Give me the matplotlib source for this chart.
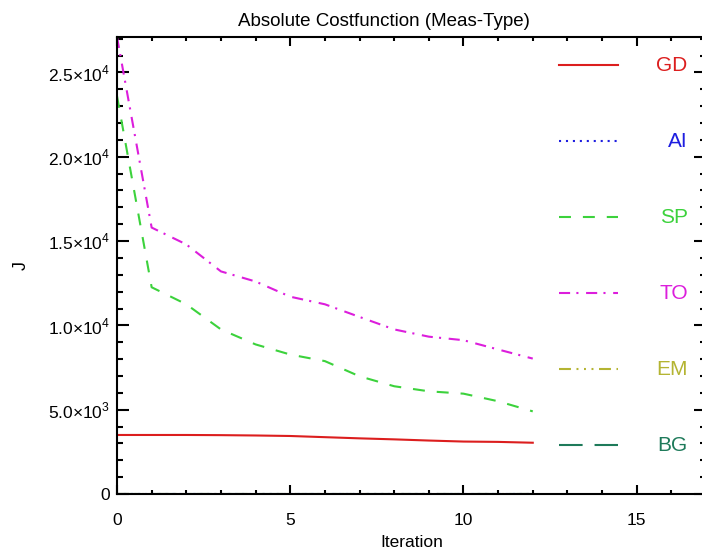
import matplotlib
matplotlib.use('Agg')
import matplotlib.pyplot as plt
from matplotlib.ticker import MultipleLocator, FuncFormatter

plt.rcParams['font.family'] = ['Liberation Sans', 'DejaVu Sans']
plt.rcParams['mathtext.fontset'] = 'custom'
plt.rcParams['mathtext.rm'] = 'Liberation Sans'
plt.rcParams['lines.scale_dashes'] = False

# cost per iteration
iterations = list(range(13))
gd = [3500, 3500, 3500, 3490, 3470, 3440, 3370, 3300, 3240, 3170, 3110, 3090, 3040]
ai = [20] * 13
sp = [23600, 12260, 11250, 9760, 8870, 8270, 7880, 6980, 6390, 6090, 5950, 5500, 4900]
to = [27100, 15800, 14800, 13200, 12600, 11700, 11250, 10500, 9760, 9330, 9120, 8570, 8030]
em = [15] * 13
bg = [10] * 13

names = ['GD', 'AI', 'SP', 'TO', 'EM', 'BG']
series = [gd, ai, sp, to, em, bg]
colors = ['#dc1e1e', '#1e1ee0', '#3cd23c', '#dc1edc', '#b4b432', '#1e7a5a']
dashes = [None, (1.5, 3.5), (8.6, 8.6), (8, 4.5, 1.5, 5.5),
          (8.6, 4, 1.4, 4, 1.4, 4, 1.4, 4), (17, 8.6)]

fig = plt.figure(figsize=(7.02, 5.56), dpi=100)
ax = fig.add_axes([117 / 702, 62 / 556, 589 / 702, 457 / 556])

for vals, c, d in zip(series, colors, dashes):
    ln, = ax.plot(iterations, vals, color=c, lw=1.5)
    if d is not None:
        ln.set_dashes(d)

ax.set_xlim(0, 17)
ax.set_ylim(0, 27100)

ax.xaxis.set_major_locator(MultipleLocator(5))
ax.xaxis.set_minor_locator(MultipleLocator(1))
ax.yaxis.set_major_locator(MultipleLocator(5000))
ax.yaxis.set_minor_locator(MultipleLocator(1000))


def ylab(v, pos):
    if v == 0:
        return '0'
    exp = len(str(int(v))) - 1
    return '%.1f×10$^{%d}$' % (v / 10 ** exp, exp)


ax.yaxis.set_major_formatter(FuncFormatter(ylab))

ax.tick_params(which='both', direction='in', top=True, right=True,
               width=1.5, labelsize=12.5, color='black')
ax.tick_params(axis='x', which='major', length=6.5, pad=14)
ax.tick_params(axis='x', which='minor', length=3)
ax.tick_params(axis='y', which='major', length=8.6, pad=5)
ax.tick_params(axis='y', which='minor', length=4.3)
for s in ax.spines.values():
    s.set_linewidth(1.5)

ax.set_xlabel('Iteration', fontsize=12.5, labelpad=5)
ax.set_ylabel('J', fontsize=13)
ax.yaxis.set_label_coords(-0.148, 0.5)
ax.set_title('Absolute Costfunction (Meas-Type)', fontsize=13.5, x=0.453, pad=8)

# legend drawn by hand on the right inside the axes
for i, (name, c, d) in enumerate(zip(names, colors, dashes)):
    yy = 0.9387 - i * 0.1663
    ln, = ax.plot([0.750, 0.851], [yy, yy], color=c, lw=1.5, transform=ax.transAxes)
    if d is not None:
        ln.set_dashes(d)
    ax.text(0.969, yy, name, color=c, fontsize=15, ha='right', va='center',
            transform=ax.transAxes)

fig.savefig('out.png', dpi=100)
